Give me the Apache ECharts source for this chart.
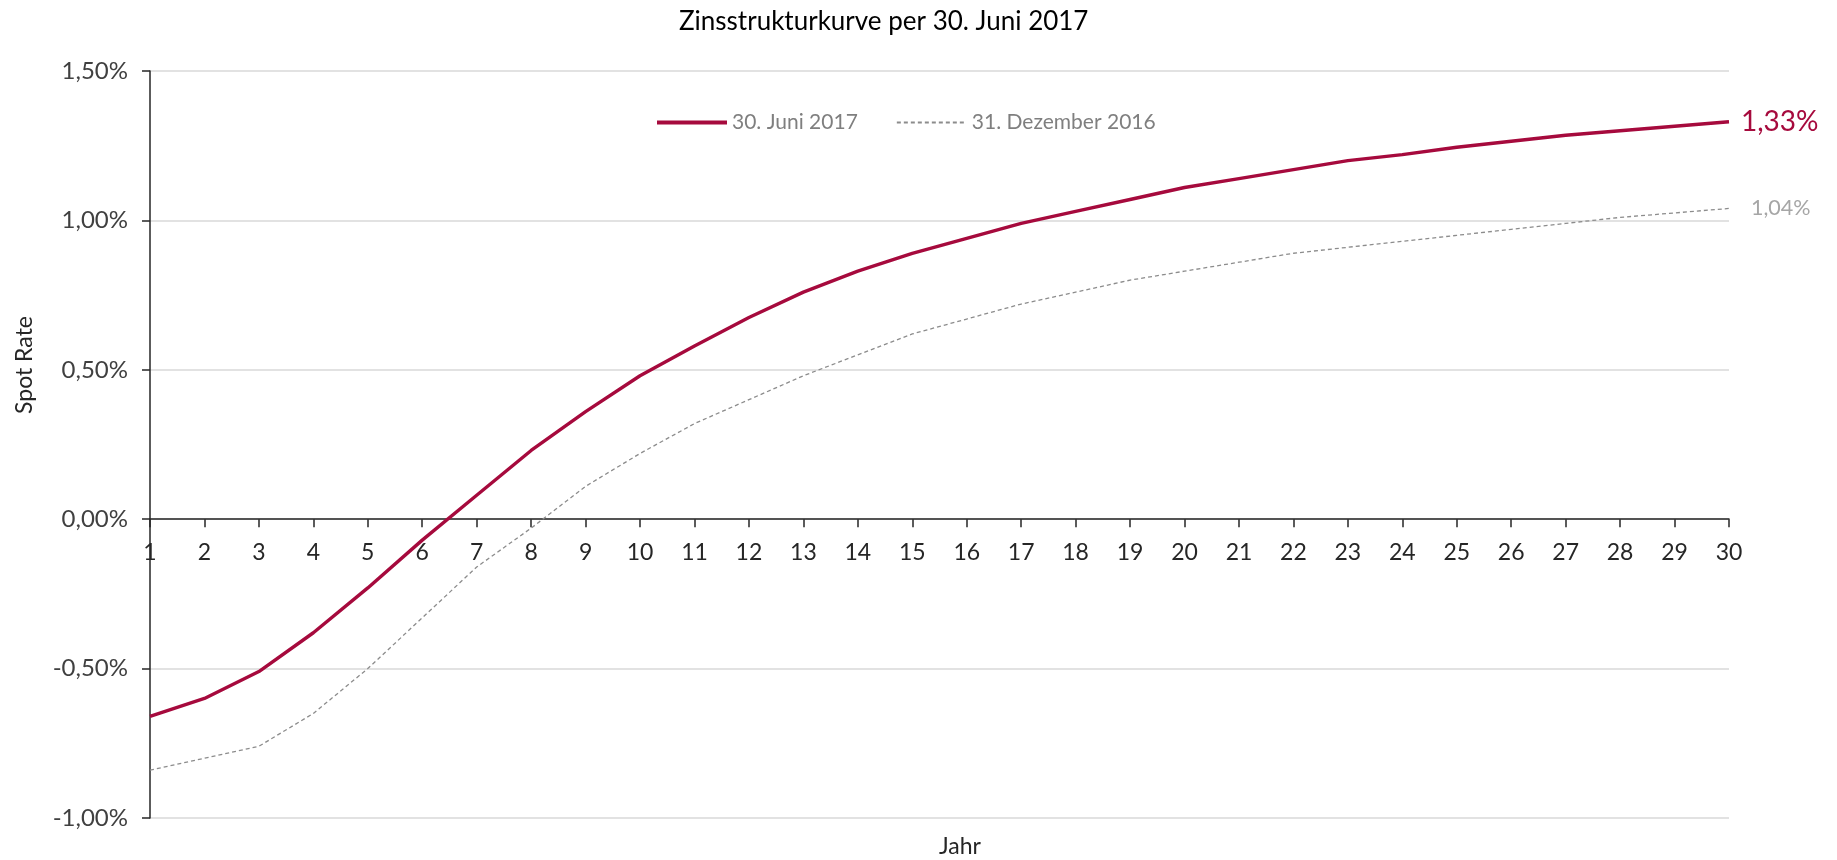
<!DOCTYPE html>
<html lang="de">
<head>
    <meta charset="UTF-8">
    <script src="https://cdn.jsdelivr.net/npm/echarts@6/dist/echarts.min.js"></script>
    <style>
        body, html {
            margin: 0;
            height: 100%;
            background: #fff;
        }

        #main {
            width: 1837px;
            height: 860px;
        }
    </style>
    <title>Zinsstrukturkurve</title>
</head>
<body>

<div id="main"></div>
<script type="text/javascript">
    // Laufzeit in Jahren
    const jahre = ['1', '2', '3', '4', '5', '6', '7', '8', '9', '10',
        '11', '12', '13', '14', '15', '16', '17', '18', '19', '20',
        '21', '22', '23', '24', '25', '26', '27', '28', '29', '30'];

    // Spot Rates in %
    const juni2017 = [-0.66, -0.60, -0.51, -0.38, -0.23, -0.07, 0.08, 0.23, 0.36, 0.48,
        0.58, 0.675, 0.76, 0.83, 0.89, 0.94, 0.99, 1.03, 1.07, 1.11,
        1.14, 1.17, 1.20, 1.22, 1.245, 1.265, 1.285, 1.30, 1.315, 1.33];
    const dez2016 = [-0.84, -0.80, -0.76, -0.65, -0.50, -0.33, -0.16, -0.03, 0.11, 0.22,
        0.32, 0.40, 0.48, 0.55, 0.62, 0.67, 0.72, 0.76, 0.80, 0.83,
        0.86, 0.89, 0.91, 0.93, 0.95, 0.97, 0.99, 1.01, 1.025, 1.04];

    const FONT = 'Lato';
    const ROT = '#a60a3d';
    const GRAU = '#8c8c8c';

    const pct = function (v) {
        return v.toFixed(2).replace('.', ',') + '%';
    };

    const myChart = echarts.init(document.getElementById('main'));

    // grid: top 71, bottom 818 -> Nulllinie liegt bei 60% der Höhe
    const gridTop = 71, gridBottom = 42;
    const plotH = 860 - gridTop - gridBottom;
    const zeroOffset = plotH * (1 / 2.5);

    const option = {
        animation: false,
        textStyle: {fontFamily: FONT},
        title: {
            text: 'Zinsstrukturkurve per 30. Juni 2017',
            left: 674,
            top: 4,
            textStyle: {fontFamily: FONT, fontSize: 26, fontWeight: 'normal', color: '#000'}
        },
        legend: {
            left: 650,
            top: 107,
            itemWidth: 70,
            itemHeight: 14,
            itemGap: 38,
            itemStyle: {opacity: 0},
            textStyle: {fontFamily: FONT, fontSize: 21, color: '#7f7f7f'},
            data: [
                {name: '30. Juni 2017', lineStyle: {width: 4}},
                {name: '31. Dezember 2016'}
            ]
        },
        grid: {
            left: 150,
            right: 108,
            top: gridTop,
            bottom: gridBottom
        },
        xAxis: {
            type: 'category',
            data: jahre,
            boundaryGap: false,
            position: 'bottom',
            offset: -zeroOffset,
            axisLine: {onZero: false, lineStyle: {color: '#262626', width: 1.5}},
            axisTick: {show: true, interval: 0, length: 8, lineStyle: {color: '#262626', width: 1.5}},
            axisLabel: {interval: 0, margin: 22, fontFamily: FONT, fontSize: 23, color: '#262626'},
            splitLine: {show: false}
        },
        yAxis: {
            type: 'value',
            min: -1,
            max: 1.5,
            interval: 0.5,
            axisLine: {show: true, onZero: false, lineStyle: {color: '#262626', width: 1.5}},
            axisTick: {show: true, length: 8, lineStyle: {color: '#262626', width: 1.5}},
            axisLabel: {margin: 22, fontFamily: FONT, fontSize: 24, color: '#404040', formatter: pct},
            splitLine: {lineStyle: {color: '#d9d9d9', width: 1.5}}
        },
        graphic: [
            {
                type: 'text',
                x: 25,
                y: 365,
                rotation: Math.PI / 2,
                style: {
                    text: 'Spot Rate', fontFamily: FONT, fontSize: 23, fill: '#262626',
                    align: 'center', verticalAlign: 'middle'
                }
            },
            {
                type: 'text',
                x: 960,
                y: 847,
                style: {
                    text: 'Jahr', fontFamily: FONT, fontSize: 23, fill: '#262626',
                    align: 'center', verticalAlign: 'middle'
                }
            }
        ],
        series: [
            {
                name: '31. Dezember 2016',
                type: 'line',
                data: dez2016,
                symbol: 'none',
                lineStyle: {color: GRAU, width: 1.3, type: [4, 3]},
                itemStyle: {color: GRAU},
                endLabel: {
                    show: true,
                    distance: 22,
                    fontFamily: FONT,
                    fontSize: 21.5,
                    color: '#a6a6a6',
                    formatter: function (p) {
                        return pct(p.value);
                    }
                },
                z: 2
            },
            {
                name: '30. Juni 2017',
                type: 'line',
                data: juni2017,
                symbol: 'none',
                lineStyle: {color: ROT, width: 3.4},
                itemStyle: {color: ROT},
                endLabel: {
                    show: true,
                    distance: 12,
                    fontFamily: FONT,
                    fontSize: 28,
                    color: ROT,
                    formatter: function (p) {
                        return pct(p.value);
                    }
                },
                z: 3
            }
        ]
    };
    myChart.setOption(option);

</script>
</body>
</html>
